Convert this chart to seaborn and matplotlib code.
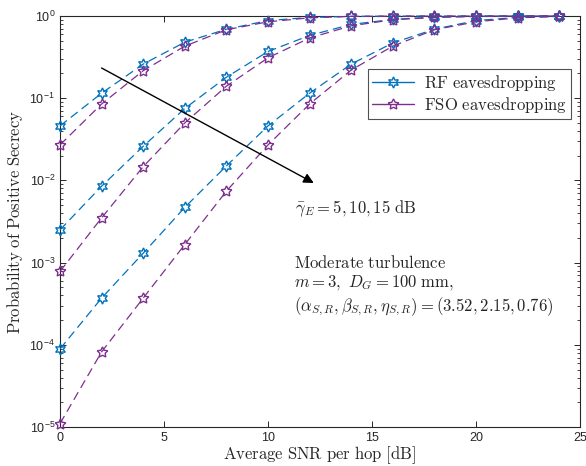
import numpy as np
import pandas as pd
import matplotlib
matplotlib.use("Agg")
import matplotlib.pyplot as plt
import seaborn as sns
from matplotlib.lines import Line2D
from matplotlib.ticker import LogLocator, NullFormatter, FixedLocator

# ---- data ----
snr_db = [0, 2, 4, 6, 8, 10, 12, 14, 16, 18, 20, 22, 24]

rf_5 = [0.046, 0.115, 0.26, 0.48, 0.69, 0.88, 0.96, 0.99, 0.997, 0.999, 1.0, 1.0, 1.0]
fso_5 = [0.027, 0.085, 0.216, 0.43, 0.68, 0.85, 0.95, 0.99, 0.997, 0.999, 1.0, 1.0, 1.0]
rf_10 = [0.0025, 0.0085, 0.026, 0.075, 0.18, 0.37, 0.58, 0.79, 0.91, 0.97, 0.99, 0.998, 1.0]
fso_10 = [0.00078, 0.0035, 0.0147, 0.050, 0.14, 0.31, 0.54, 0.76, 0.90, 0.96, 0.99, 0.998, 1.0]
rf_15 = [0.000089, 0.00037, 0.0013, 0.0047, 0.015, 0.046, 0.115, 0.26, 0.47, 0.69, 0.88, 0.96, 0.99]
fso_15 = [0.000011, 0.000082, 0.00037, 0.00166, 0.0074, 0.027, 0.085, 0.22, 0.43, 0.68, 0.85, 0.95, 0.99]

series_names = ["RF eavesdropping", "FSO eavesdropping"]
xticks = [0, 5, 10, 15, 20, 25]

# ---- style ----
sns.set_style("ticks")
plt.rcParams["font.family"] = ["Liberation Sans", "DejaVu Sans"]
plt.rcParams["mathtext.fontset"] = "cm"

rf_color = "#0072BD"
fso_color = "#7E2F8E"
hexagram = (6, 1, 0)
pentagram = (5, 1, 0)
dash = (0, (7, 4))

fig = plt.figure(figsize=(5.86, 4.66), dpi=100)
ax = fig.add_axes([60 / 586, 1 - 427 / 466, 520 / 586, 411 / 466])

for vals, col, mk in [(rf_5, rf_color, hexagram), (fso_5, fso_color, pentagram),
                      (rf_10, rf_color, hexagram), (fso_10, fso_color, pentagram),
                      (rf_15, rf_color, hexagram), (fso_15, fso_color, pentagram)]:
    df = pd.DataFrame({"snr": snr_db, "p": vals})
    sns.lineplot(data=df, x="snr", y="p", ax=ax, color=col, linewidth=0.9,
                 linestyle=dash, marker=mk, markersize=8,
                 markerfacecolor="none", markeredgecolor=col,
                 markeredgewidth=1.0, clip_on=False, zorder=3)

ax.set_yscale("log")
ax.set_xlim(0, 25)
ax.set_ylim(1e-5, 1)
ax.xaxis.set_major_locator(FixedLocator(xticks))
ax.yaxis.set_major_locator(LogLocator(base=10, numticks=10))
ax.yaxis.set_minor_locator(LogLocator(base=10, subs=np.arange(2, 10), numticks=20))
ax.yaxis.set_minor_formatter(NullFormatter())
ax.tick_params(which="both", direction="in", top=True, right=True,
               labelsize=9, colors="#262626")
ax.tick_params(which="major", length=4.5, width=0.7)
ax.tick_params(which="minor", length=2.5, width=0.6)
for s in ax.spines.values():
    s.set_linewidth(0.8)
    s.set_color("#262626")

ax.set_xlabel(r"$\mathrm{Average\ SNR\ per\ hop\ [dB]}$", fontsize=12, labelpad=0)
ax.set_ylabel(r"$\mathrm{Probability\ of\ Positive\ Secrecy}$", fontsize=12, labelpad=3)

# legend
handles = [Line2D([], [], color=rf_color, lw=1.0, marker=hexagram, markersize=8,
                  markerfacecolor="none", markeredgecolor=rf_color),
           Line2D([], [], color=fso_color, lw=1.0, marker=pentagram, markersize=8,
                  markerfacecolor="none", markeredgecolor=fso_color)]
labels = [r"$\mathrm{RF\ eavesdropping}$", r"$\mathrm{FSO\ eavesdropping}$"]
leg = ax.legend(handles, labels, loc="upper right", bbox_to_anchor=(0.983, 0.871),
                fontsize=12, frameon=True, fancybox=False, edgecolor="#262626",
                handlelength=2.5, handletextpad=0.6, borderpad=0.25, labelspacing=0.1,
                borderaxespad=0)
leg.get_frame().set_linewidth(0.8)

# annotations
ax.annotate("", xy=(12.2, 0.0093), xytext=(2.0, 0.233),
            arrowprops=dict(arrowstyle="-|>", color="black", lw=1.0,
                            mutation_scale=15, shrinkA=0, shrinkB=0))
ax.text(11.3, 0.0045, r"$\bar{\gamma}_E = 5, 10, 15\ \mathrm{dB}$", fontsize=12,
        ha="left", va="center")
ax.text(11.25, 0.00128,
        r"$\mathrm{Moderate\ turbulence}$" "\n"
        r"$m=3,\ D_G=100\ \mathrm{mm},$" "\n"
        r"$(\alpha_{S,R},\beta_{S,R},\eta_{S,R})=(3.52,2.15,0.76)$",
        fontsize=12, ha="left", va="top", linespacing=1.2)

fig.savefig("out.png", dpi=100)
